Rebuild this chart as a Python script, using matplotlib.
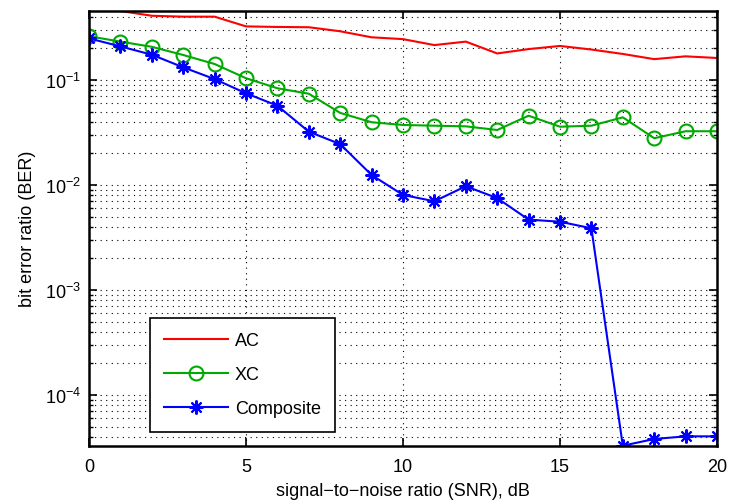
import numpy as np
import matplotlib
matplotlib.use("Agg")
import matplotlib.pyplot as plt
from matplotlib.ticker import LogLocator, NullFormatter

plt.rcParams['font.family'] = ['Liberation Sans', 'DejaVu Sans']
plt.rcParams['mathtext.fontset'] = 'custom'
plt.rcParams['mathtext.rm'] = 'Liberation Sans'
plt.rcParams['mathtext.default'] = 'regular'

# data
snr = list(range(21))
ber_ac = [0.457, 0.454, 0.409, 0.401, 0.401, 0.324, 0.320, 0.318, 0.291, 0.255, 0.245,
          0.215, 0.232, 0.179, 0.197, 0.211, 0.195, 0.177, 0.158, 0.168, 0.162]
ber_xc = [0.261, 0.232, 0.207, 0.173, 0.142, 0.104, 0.0834, 0.074, 0.0486, 0.0396, 0.0373,
          0.0367, 0.0362, 0.0334, 0.0457, 0.0359, 0.0367, 0.0441, 0.0279, 0.0325, 0.0325]
ber_comp = [0.249, 0.209, 0.174, 0.132, 0.102, 0.0747, 0.0569, 0.0322, 0.0245, 0.01245, 0.00804,
            0.0070, 0.00973, 0.0075, 0.00468, 0.00447, 0.00387, 3.29e-5, 3.81e-5, 4.04e-5, 4.04e-5]

fig = plt.figure(figsize=(7.29, 5.02), dpi=100)
ax = fig.add_axes([89 / 729, 1 - 446.7 / 502, 628 / 729, 435 / 502])

# MATLAB style asterisk: + and x together
star = (8, 2, 0)

ax.semilogy(snr, ber_ac, color='#ff0000', lw=1.5, label='AC')
ax.semilogy(snr, ber_xc, color='#00aa00', lw=1.5, marker='o', ms=10, mfc='none', mew=1.5, label='XC')
ax.semilogy(snr, ber_comp, color='#0000ff', lw=1.5, marker=star, ms=10, mew=1.5, label='Composite')

ax.set_xlim(0, 20)
ax.set_ylim(min(ber_comp), max(ber_ac))
ax.set_xticks([0, 5, 10, 15, 20])
ax.yaxis.set_major_locator(LogLocator(base=10, numticks=10))
ax.yaxis.set_minor_locator(LogLocator(base=10, subs=np.arange(2, 10), numticks=50))
ax.yaxis.set_minor_formatter(NullFormatter())

ax.grid(True, which='major', axis='both', ls=(0, (1, 4)), color='k', lw=0.8)
ax.grid(True, which='minor', axis='y', ls=(0, (1, 4)), color='k', lw=0.8)

ax.tick_params(which='both', direction='in', top=True, right=True, labelsize=13)
ax.tick_params(which='major', length=6, width=1.2)
ax.tick_params(axis='x', which='major', pad=9)
ax.tick_params(axis='y', which='major', pad=6)
ax.tick_params(which='minor', length=3, width=1)
for s in ax.spines.values():
    s.set_linewidth(1.8)

ax.set_xlabel('signal\u2212to\u2212noise ratio (SNR), dB', fontsize=13, labelpad=5)
ax.set_ylabel('bit error ratio (BER)', fontsize=13, labelpad=6)

leg = ax.legend(loc='upper left', bbox_to_anchor=(61 / 628, 1 - 307 / 435), fontsize=13,
                fancybox=False, framealpha=1, edgecolor='k', borderpad=0.8, borderaxespad=0,
                handlelength=3.5, handletextpad=0.4, labelspacing=0.95)
leg.get_frame().set_linewidth(1.2)

fig.savefig('out.png', dpi=100)
